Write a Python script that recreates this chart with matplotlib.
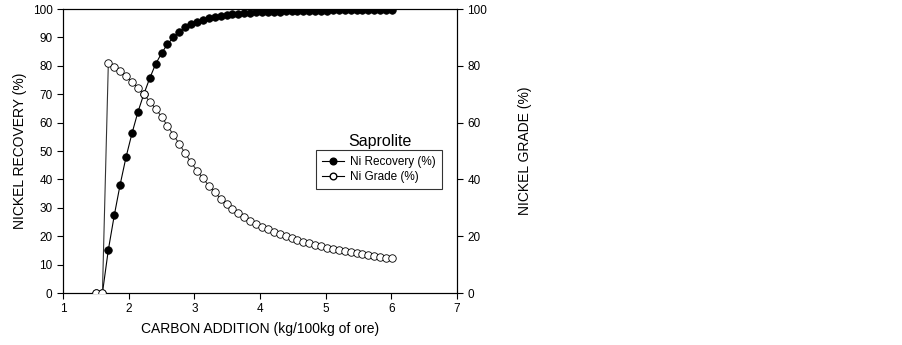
import matplotlib
matplotlib.use("Agg")
import matplotlib.pyplot as plt
from matplotlib.lines import Line2D

plt.rcParams["font.family"] = ["Liberation Sans", "DejaVu Sans"]

# ---------------------------------------------------------------------------
# Data
# ---------------------------------------------------------------------------
carbon = [1.50, 1.60, 1.69, 1.78, 1.87, 1.96, 2.05, 2.14, 2.23, 2.32, 2.41,
          2.50, 2.59, 2.68, 2.77, 2.86, 2.95, 3.04, 3.13, 3.22, 3.31, 3.40,
          3.49, 3.58, 3.67, 3.76, 3.85, 3.94, 4.03, 4.12, 4.21, 4.30, 4.39,
          4.48, 4.57, 4.66, 4.75, 4.84, 4.93, 5.02, 5.11, 5.20, 5.29, 5.38,
          5.47, 5.56, 5.65, 5.74, 5.83, 5.92, 6.01]

ni_recovery = [0.0, 0.0, 15.2, 27.3, 38.2, 47.9, 56.2, 63.7, 70.0, 75.6, 80.6,
               84.4, 87.6, 90.0, 92.0, 93.5, 94.7, 95.6, 96.3, 96.9, 97.3, 97.7,
               98.0, 98.2, 98.4, 98.6, 98.7, 98.8, 98.9, 99.0, 99.05, 99.1, 99.15,
               99.2, 99.25, 99.3, 99.35, 99.4, 99.4, 99.45, 99.5, 99.5, 99.55, 99.55,
               99.6, 99.6, 99.65, 99.65, 99.7, 99.7, 99.7]

ni_grade = [0.0, 0.0, 80.9, 79.7, 78.2, 76.4, 74.4, 72.3, 70.0, 67.4, 64.9,
            62.1, 58.9, 55.7, 52.5, 49.2, 46.0, 43.1, 40.4, 37.8, 35.5, 33.2,
            31.3, 29.6, 28.1, 26.7, 25.5, 24.3, 23.3, 22.4, 21.5, 20.7, 20.0,
            19.3, 18.7, 18.1, 17.5, 17.0, 16.5, 16.0, 15.6, 15.2, 14.8, 14.4,
            14.1, 13.7, 13.4, 13.1, 12.8, 12.5, 12.2]

x_ticks = [1, 2, 3, 4, 5, 6, 7]
left_ticks = list(range(0, 101, 10))
right_ticks = list(range(0, 101, 20))

# ---------------------------------------------------------------------------
# Figure
# ---------------------------------------------------------------------------
fig = plt.figure(figsize=(9.03, 3.45), dpi=100)
ax = fig.add_axes([0.0698, 0.1507, 0.4363, 0.8232])
ax2 = ax.twinx()

MS = 5.4
ax.plot(carbon, ni_recovery, "-", color="black", linewidth=0.8,
        marker="o", markersize=MS, markerfacecolor="black",
        markeredgecolor="black", markeredgewidth=0.6, zorder=3)
ax2.plot(carbon, ni_grade, "-", color="#333333", linewidth=0.8,
         marker="o", markersize=MS, markerfacecolor="white",
         markeredgecolor="black", markeredgewidth=0.6, zorder=3)

ax.set_xlim(1, 7)
ax.set_ylim(0, 100)
ax2.set_ylim(0, 100)
ax.set_xticks(x_ticks)
ax.set_yticks(left_ticks)
ax2.set_yticks(right_ticks)

for a in (ax, ax2):
    a.tick_params(direction="out", length=4, width=0.8, labelsize=8.5,
                  colors="black")
    for s in a.spines.values():
        s.set_linewidth(0.8)

ax.set_xlabel("CARBON ADDITION (kg/100kg of ore)", fontsize=10, labelpad=5)
ax.set_ylabel("NICKEL RECOVERY (%)", fontsize=10, labelpad=4)
ax2.set_ylabel("NICKEL GRADE (%)", fontsize=10, labelpad=22, rotation=90)

# legend with title sitting above the box
handles = [
    Line2D([], [], color="black", linewidth=0.8, marker="o", markersize=MS - 0.6,
           markerfacecolor="black", markeredgecolor="black"),
    Line2D([], [], color="black", linewidth=0.8, marker="o", markersize=MS - 0.6,
           markerfacecolor="white", markeredgecolor="black"),
]
leg = ax2.legend(handles, ["Ni Recovery (%)", "Ni Grade (%)"],
                 loc="upper left", bbox_to_anchor=(0.642, 0.5035),
                 borderaxespad=0, fontsize=8.5, frameon=True, fancybox=False,
                 edgecolor="black", handlelength=1.9, handletextpad=0.5,
                 borderpad=0.5, labelspacing=0.3)
leg.get_frame().set_linewidth(0.8)
ax2.text(0.804, 0.532, "Saprolite", transform=ax2.transAxes,
         ha="center", va="center", fontsize=11.5)

fig.savefig("out.png", dpi=100)
